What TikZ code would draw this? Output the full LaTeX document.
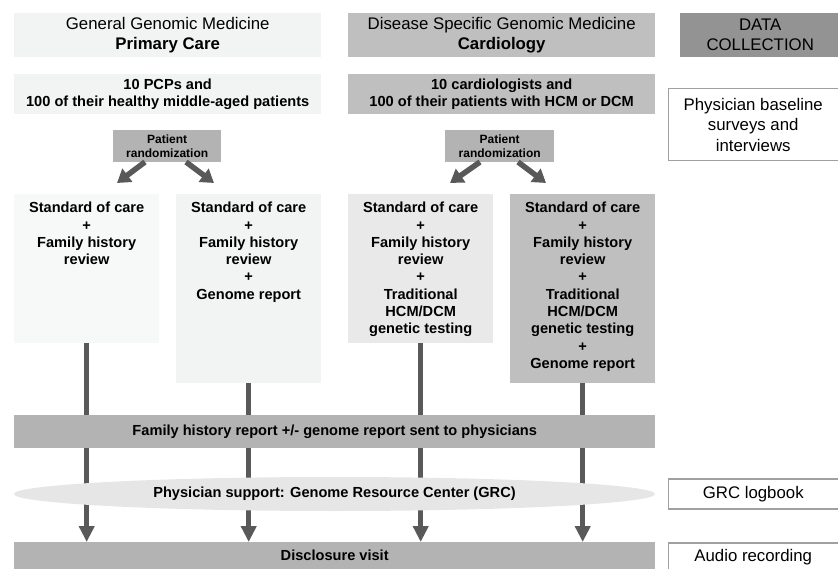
\documentclass[tikz,border=0pt]{standalone}
\usepackage{fontspec}
\setmainfont{Liberation Sans}
\usetikzlibrary{arrows.meta,shapes.geometric,calc}

\definecolor{pcfill}{HTML}{F2F3F3}
\definecolor{cardfill}{HTML}{BFBFBF}
\definecolor{datafill}{HTML}{939393}
\definecolor{armA}{HTML}{F7F8F8}
\definecolor{armB}{HTML}{F2F3F3}
\definecolor{armC}{HTML}{E9E9E9}
\definecolor{armD}{HTML}{BFBFBF}
\definecolor{barfill}{HTML}{B3B3B3}
\definecolor{ovalfill}{HTML}{E6E6E6}
\definecolor{arrowgray}{HTML}{595959}
\definecolor{framegray}{HTML}{A0A0A0}

\newcommand\hdsize{\fontsize{16.8}{20}\selectfont}
\newcommand\bdsize{\fontsize{14.6}{17.3}\selectfont\bfseries}
\newcommand\rdsize{\fontsize{12}{14.7}\selectfont\bfseries}

\begin{document}
\begin{tikzpicture}[x=1pt,y=-1pt,
  panel/.style={rectangle,inner sep=0pt,anchor=north west,draw=none},
  frame/.style={rectangle,inner sep=0pt,anchor=north west,fill=white,draw=framegray,line width=1.5pt},
  label/.style={align=center,inner sep=0pt,text=black},
  varrow/.style={draw=arrowgray,line width=5pt,-{Triangle[width=15pt,length=16pt]},shorten >=0pt},
  darrow/.style={draw=arrowgray,line width=5.5pt,-{Triangle[width=16pt,length=13pt]}}
]
\useasboundingbox (0,0) rectangle (838,569);

% column headers
\node[panel,fill=pcfill,minimum width=307pt,minimum height=44pt] (hdpc) at (14,13) {};
\node[label,font=\hdsize] (hdpct) at (hdpc) {General Genomic Medicine\\\textbf{Primary Care}};
\node[panel,fill=cardfill,minimum width=307pt,minimum height=44pt] (hdcd) at (348,13) {};
\node[label,font=\hdsize] (hdcdt) at (hdcd) {Disease Specific Genomic Medicine\\\textbf{Cardiology}};
\node[panel,fill=datafill,minimum width=160pt,minimum height=44pt] (hddc) at (680,13) {};
\node[label,font=\hdsize] (hddct) at (hddc) {DATA\\COLLECTION};

% study populations
\node[panel,fill=pcfill,minimum width=307pt,minimum height=40pt] (poppc) at (14,74) {};
\node[label,font=\bdsize] (poppct) at (poppc) {10 PCPs and\\100 of their healthy middle-aged patients};
\node[panel,fill=cardfill,minimum width=307pt,minimum height=40pt] (popcd) at (348,74) {};
\node[label,font=\bdsize] (popcdt) at (popcd) {10 cardiologists and\\100 of their patients with HCM or DCM};

% randomization
\node[panel,fill=barfill,minimum width=108pt,minimum height=32pt] (randpc) at (113,130) {};
\node[label,font=\rdsize] (randpct) at (randpc) {Patient\\randomization};
\node[panel,fill=barfill,minimum width=109pt,minimum height=32pt] (randcd) at (445,130) {};
\node[label,font=\rdsize] (randcdt) at (randcd) {Patient\\randomization};

\coordinate (pcLs) at (145,162);
\coordinate (pcLe) at (117,183);
\coordinate (pcRs) at (186,162);
\coordinate (pcRe) at (214,183);
\coordinate (cdLs) at (480,162);
\coordinate (cdLe) at (450,183);
\coordinate (cdRs) at (518,162);
\coordinate (cdRe) at (546,183);
\draw[darrow] (pcLs) -- (pcLe);
\draw[darrow] (pcRs) -- (pcRe);
\draw[darrow] (cdLs) -- (cdLe);
\draw[darrow] (cdRs) -- (cdRe);

% study arms
\node[panel,fill=armA,minimum width=145pt,minimum height=149pt] (arm1) at (14,194) {};
\node[panel,fill=armB,minimum width=145pt,minimum height=189pt] (arm2) at (176,194) {};
\node[panel,fill=armC,minimum width=145pt,minimum height=149pt] (arm3) at (348,194) {};
\node[panel,fill=armD,minimum width=145pt,minimum height=189pt] (arm4) at (510,194) {};
\node[label,font=\bdsize,anchor=north] (arm1t) at ($(arm1.north)+(0,8)$) {Standard of care\\+\\Family history\\review};
\node[label,font=\bdsize,anchor=north] (arm2t) at ($(arm2.north)+(0,8)$) {Standard of care\\+\\Family history\\review\\+\\Genome report};
\node[label,font=\bdsize,anchor=north] (arm3t) at ($(arm3.north)+(0,8)$) {Standard of care\\+\\Family history\\review\\+\\Traditional\\HCM/DCM\\genetic testing};
\node[label,font=\bdsize,anchor=north] (arm4t) at ($(arm4.north)+(0,8)$) {Standard of care\\+\\Family history\\review\\+\\Traditional\\HCM/DCM\\genetic testing\\+\\Genome report};

% disclosure bar (arrows end on its top edge)
\node[panel,fill=barfill,minimum width=641pt,minimum height=30pt] (disc) at (14,542) {};
\node[label,font=\bdsize] (disct) at ($(disc.north)+(0,13)$) {Disclosure visit};

% arms to disclosure visit
\draw[varrow] (arm1.south) -- (arm1.south |- disc.north);
\draw[varrow] (arm2.south) -- (arm2.south |- disc.north);
\draw[varrow] (arm3.south) -- (arm3.south |- disc.north);
\draw[varrow] (arm4.south) -- (arm4.south |- disc.north);

% report bar and support oval over the arrows
\node[panel,fill=barfill,minimum width=641pt,minimum height=33pt] (report) at (14,415) {};
\node[label,font=\bdsize] (reportt) at (report) {Family history report +/- genome report sent to physicians};
\node[ellipse,fill=ovalfill,inner sep=0pt,minimum width=641pt,minimum height=34pt] (grc) at (334.5,494) {};
\node[label,font=\bdsize] (grct) at (grc) {Physician support: Genome Resource Center (GRC)};

% data collection instruments
\node[frame,minimum width=170pt,minimum height=72pt] (survey) at (667.5,88) {};
\node[label,font=\fontsize{16.8}{20.3}\selectfont] (surveyt) at (survey) {Physician baseline\\surveys and\\interviews};
\node[frame,minimum width=170pt,minimum height=30pt] (logbook) at (667.5,478) {};
\node[label,font=\hdsize] (logbookt) at (logbook) {GRC logbook};
\node[frame,minimum width=170pt,minimum height=34pt] (audio) at (667.5,542) {};
\node[label,font=\hdsize] (audiot) at ($(audio.north)+(0,15)$) {Audio recording};
\end{tikzpicture}
\end{document}
